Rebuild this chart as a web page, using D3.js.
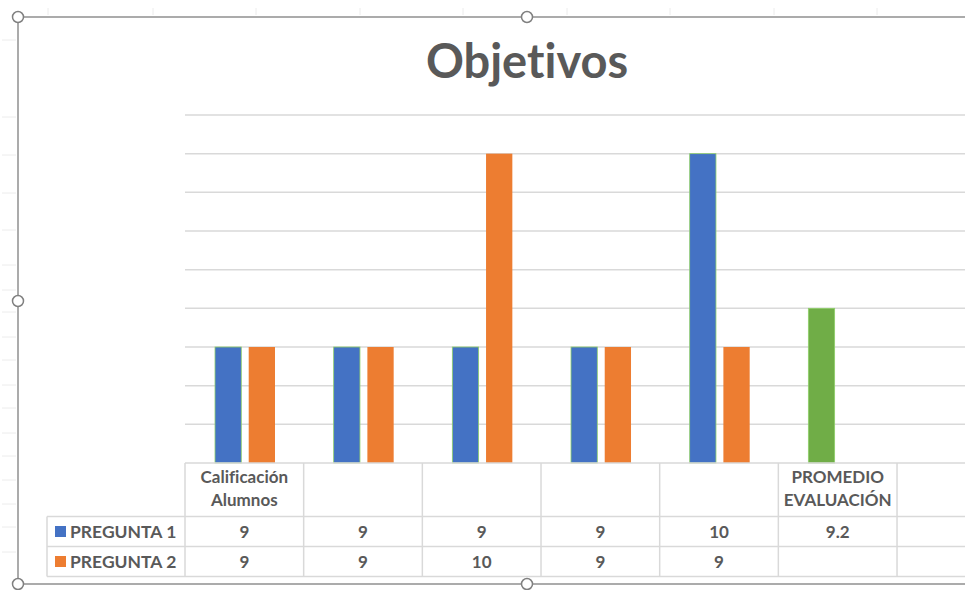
<!DOCTYPE html>
<html>
<head>
<meta charset="utf-8">
<script src="https://cdnjs.cloudflare.com/ajax/libs/d3/7.8.5/d3.min.js"></script>
<style>
  html, body { margin: 0; padding: 0; background: #ffffff; }
  svg { display: block; }
  text { font-family: Lato, "Open Sans", sans-serif; font-variant-ligatures: none; }
</style>
</head>
<body>
<script>
// ---- data ----
const title = "Objetivos";
const categories = [["Calificación", "Alumnos"], [], [], [], [], ["PROMEDIO", "EVALUACIÓN"], []];
const seriesNames = ["PREGUNTA 1", "PREGUNTA 2"];
const pregunta1 = [9, 9, 9, 9, 10, 9.2, null];
const pregunta2 = [9, 9, 10, 9, 9, null, null];
const seriesColors = ["#4472c4", "#ed7d31"];
const highlightColor = "#70ad47";   // PROMEDIO point of PREGUNTA 1
const highlightIndex = 5;
const yDomain = [8.4, 10.2];
const yTicks = [8.4, 8.6, 8.8, 9.0, 9.2, 9.4, 9.6, 9.8, 10.0, 10.2];

const W = 965, H = 590;
const svg = d3.select("body").append("svg").attr("width", W).attr("height", H);

const plotLeft = 185, bandW = 118.67, plotTop = 115, plotBottom = 463;
const rowTops = [463, 516.5, 546.5, 576.5];
const textColor = "#595959";
const lineColor = "#d9d9d9";

const x = d3.scaleBand().domain(d3.range(categories.length))
  .range([plotLeft, plotLeft + bandW * categories.length]).paddingInner(0).paddingOuter(0);
const xs = d3.scaleBand().domain([0, 1]).range([30, 90]).paddingInner(0.22).paddingOuter(0);
const y = d3.scaleLinear().domain(yDomain).range([plotBottom, plotTop]);

// faint sheet marks behind the chart
const sheet = svg.append("g").attr("stroke", "#ececec").attr("stroke-width", 1);
[40, 117, 155, 193, 230, 265, 290, 312, 337, 360, 385, 408, 433, 456, 480, 504, 527, 552].forEach(v => {
  sheet.append("line").attr("x1", 2).attr("x2", 16).attr("y1", v).attr("y2", v);
});
[48, 153, 256, 360, 463, 567, 670, 774, 877].forEach(v => {
  sheet.append("line").attr("x1", v).attr("x2", v).attr("y1", 8).attr("y2", 15);
});

// gridlines
svg.append("g").selectAll("line").data(yTicks.slice(1)).join("line")
  .attr("x1", plotLeft).attr("x2", W)
  .attr("y1", d => y(d)).attr("y2", d => y(d))
  .attr("stroke", lineColor).attr("stroke-width", 1.5);

// bars
const seriesData = [pregunta1, pregunta2];
const barG = svg.append("g");
seriesData.forEach((vals, s) => {
  barG.selectAll(null).data(vals.map((v, i) => ({ v, i })).filter(d => d.v != null)).join("rect")
    .attr("x", d => x(d.i) + xs(s))
    .attr("width", xs.bandwidth())
    .attr("y", d => y(d.v))
    .attr("height", d => plotBottom - y(d.v))
    .attr("fill", d => (s === 0 && d.i === highlightIndex) ? highlightColor : seriesColors[s])
    .attr("stroke", s === 0 ? "#8fd06a" : "none")
    .attr("stroke-width", s === 0 ? 0.8 : 0);
});

// data table
const tbl = svg.append("g").attr("stroke", lineColor).attr("stroke-width", 1.5);
tbl.append("line").attr("x1", plotLeft).attr("x2", W).attr("y1", rowTops[0]).attr("y2", rowTops[0]);
rowTops.slice(1).forEach(v => {
  tbl.append("line").attr("x1", 47).attr("x2", W).attr("y1", v).attr("y2", v);
});
tbl.append("line").attr("x1", 47).attr("x2", 47).attr("y1", rowTops[1]).attr("y2", rowTops[3]);
d3.range(categories.length).forEach(i => {
  const xv = x(i);
  tbl.append("line").attr("x1", xv).attr("x2", xv).attr("y1", rowTops[0]).attr("y2", rowTops[3]);
});

// header labels
const hdr = svg.append("g").attr("fill", textColor).attr("font-weight", "bold")
  .attr("font-size", 17).attr("text-anchor", "middle");
categories.forEach((lines, i) => {
  lines.forEach((t, k) => {
    hdr.append("text").attr("x", x(i) + bandW / 2).attr("y", 483 + k * 23).text(t);
  });
});

// legend keys and values
const body = svg.append("g").attr("fill", textColor).attr("font-weight", "bold").attr("font-size", 17);
seriesNames.forEach((name, s) => {
  const cy = (rowTops[s + 1] + rowTops[s + 2]) / 2;
  body.append("rect").attr("x", 55).attr("y", cy - 5.5).attr("width", 11).attr("height", 11)
    .attr("fill", seriesColors[s]);
  body.append("text").attr("x", 70).attr("y", cy + 6).attr("font-size", 17.5).text(name);
  seriesData[s].forEach((v, i) => {
    if (v == null) return;
    body.append("text").attr("x", x(i) + bandW / 2).attr("y", cy + 6)
      .attr("text-anchor", "middle").text(v);
  });
});

// title
svg.append("text").attr("x", 527).attr("y", 78).attr("text-anchor", "middle")
  .attr("font-size", 47).attr("font-weight", "bold").attr("fill", textColor).text(title);

// selection frame and handles
const frame = svg.append("g").attr("stroke", "#8f8f8f").attr("stroke-width", 1.5).attr("fill", "none");
frame.append("line").attr("x1", 18).attr("x2", W).attr("y1", 17).attr("y2", 17);
frame.append("line").attr("x1", 18).attr("x2", W).attr("y1", 584).attr("y2", 584);
frame.append("line").attr("x1", 18).attr("x2", 18).attr("y1", 17).attr("y2", 584);
[[18, 17], [527, 17], [18, 301], [18, 584], [527, 584]].forEach(([cx, cy]) => {
  frame.append("circle").attr("cx", cx).attr("cy", cy).attr("r", 5.5)
    .attr("fill", "#ffffff").attr("stroke", "#808080");
});
</script>
</body>
</html>
